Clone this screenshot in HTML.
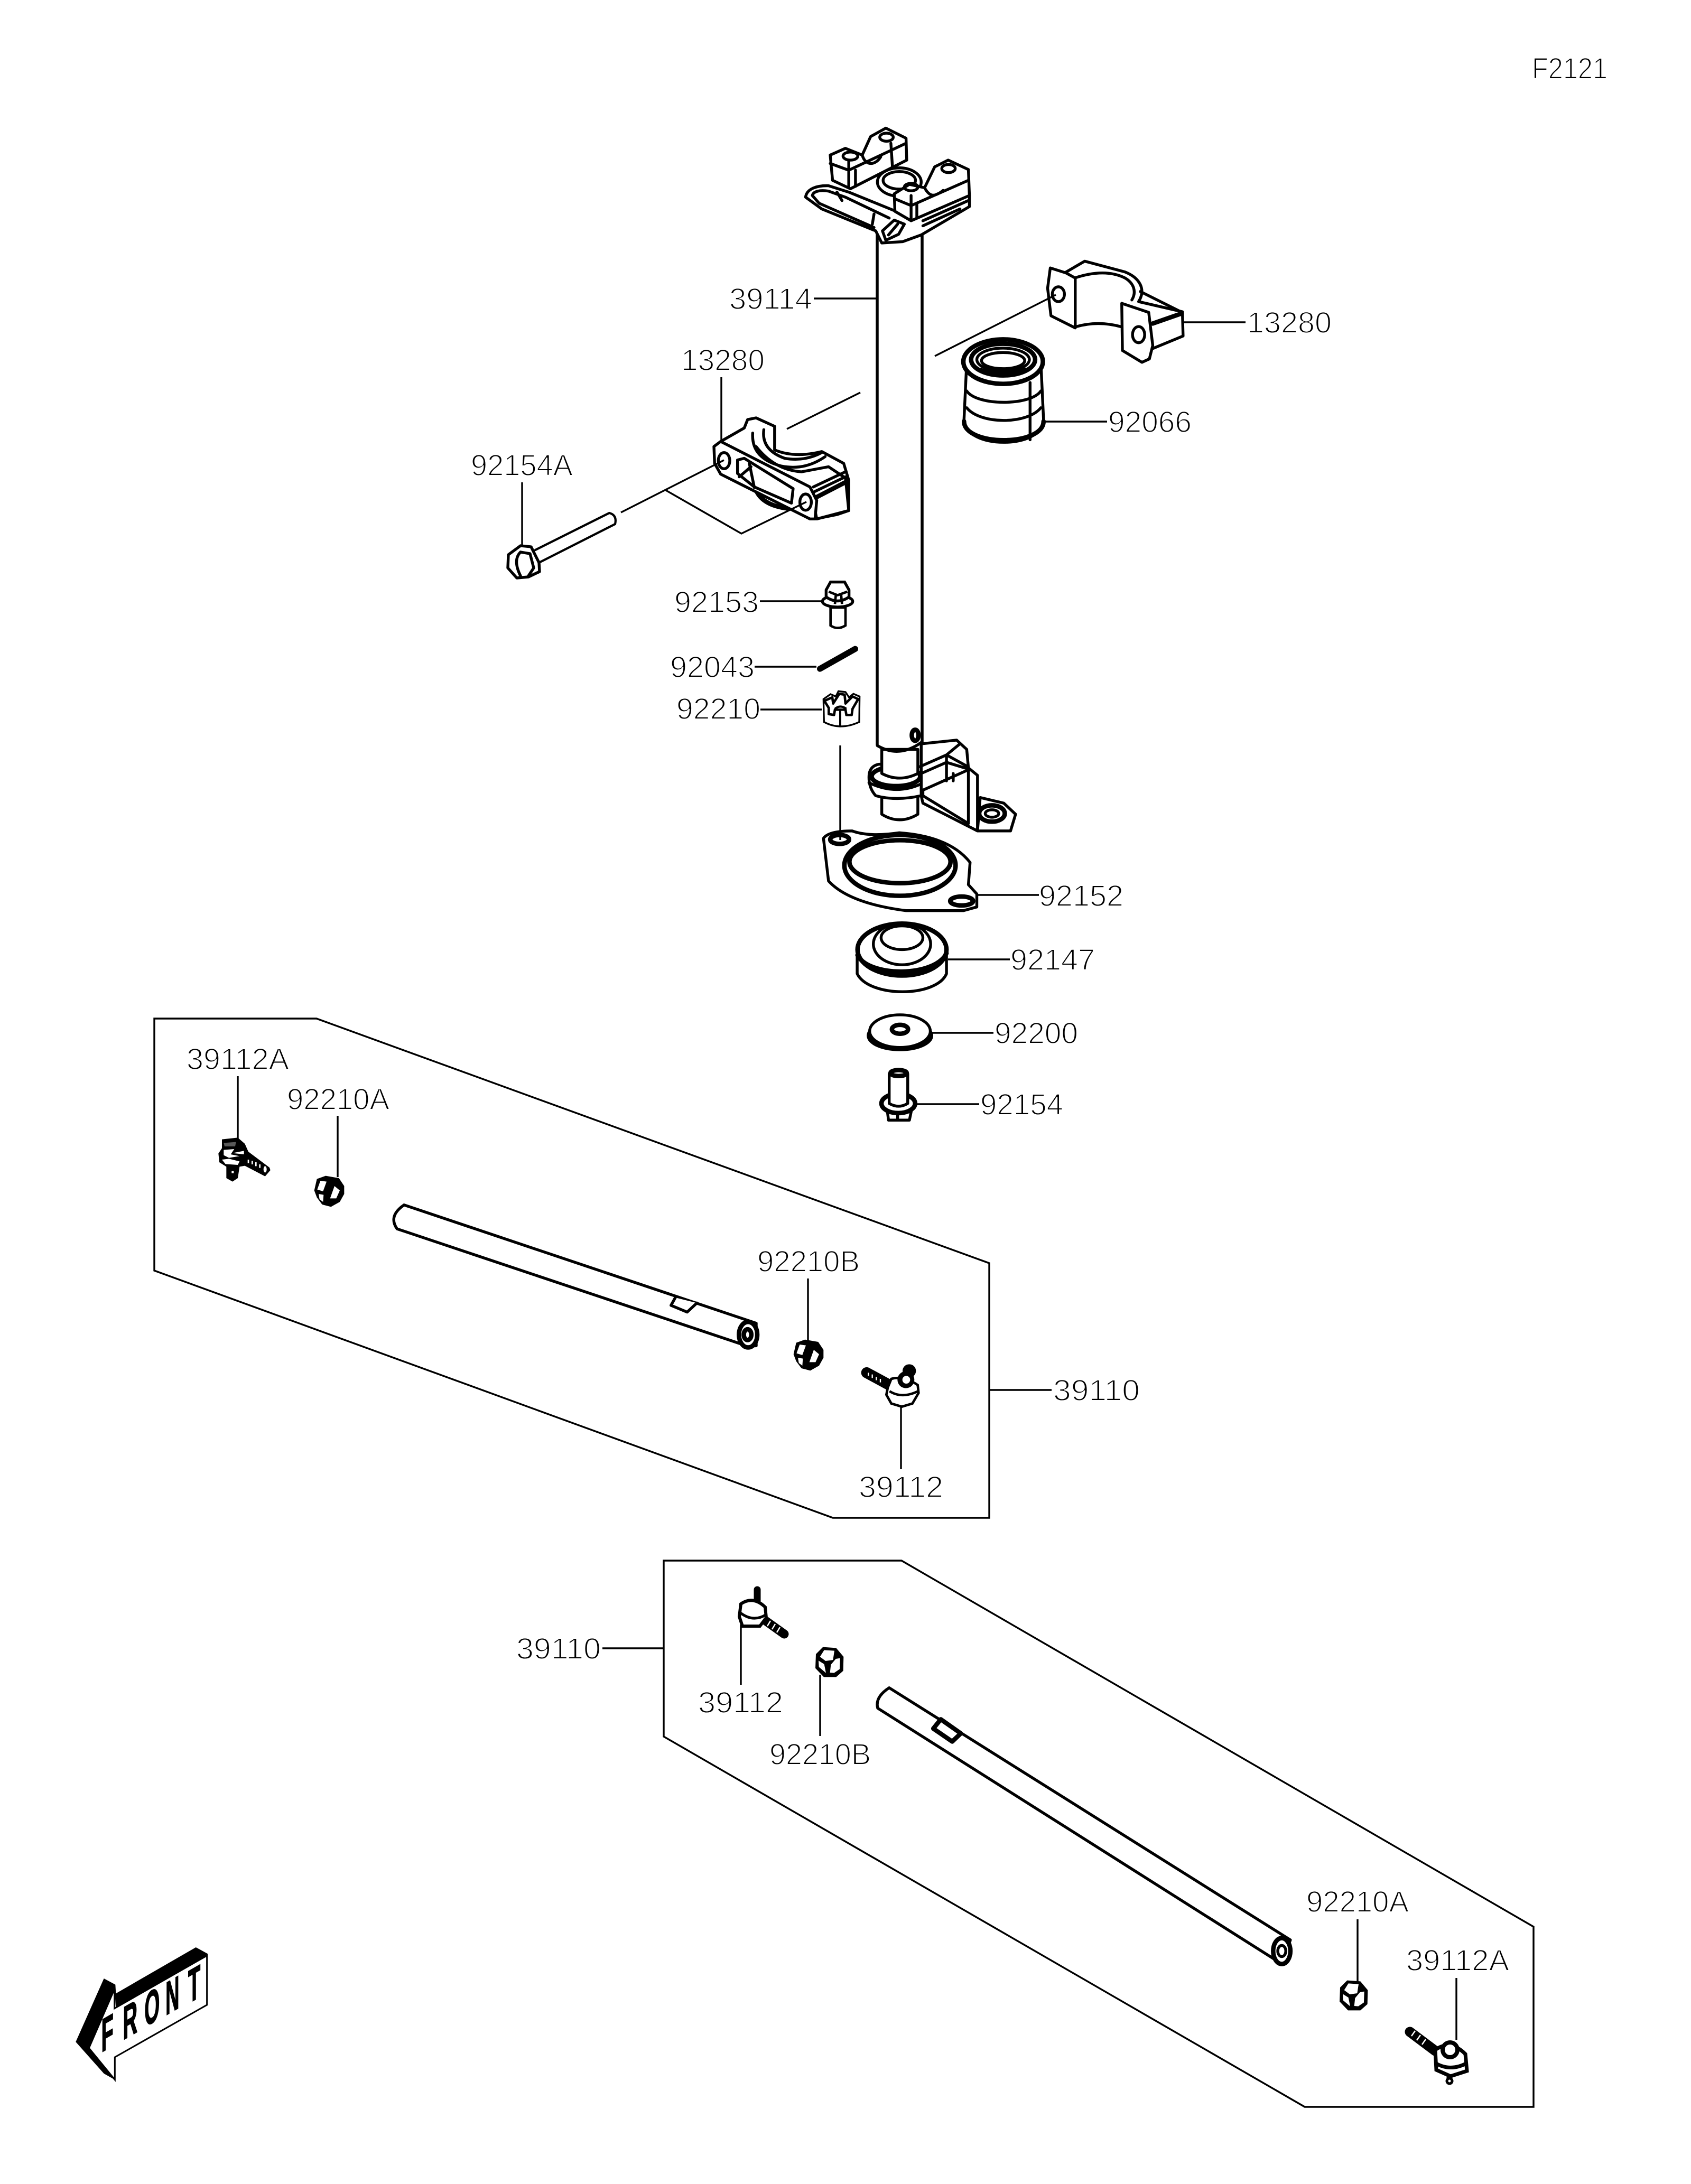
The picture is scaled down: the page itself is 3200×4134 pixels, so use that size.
<!DOCTYPE html>
<html><head><meta charset="utf-8"><title>F2121</title>
<style>
html,body{margin:0;padding:0;background:#fff;width:3200px;height:4134px;overflow:hidden}
svg{display:block}
text.l{font-family:"Liberation Sans",sans-serif;font-size:57px;fill:#000;stroke:#fff;stroke-width:1.9px;paint-order:fill stroke}
.ln line,.ln polyline,.ln polygon{fill:none;stroke:#000;stroke-width:3.4px}
.p *{fill:#fff;stroke:#000;stroke-width:5.4px;stroke-linejoin:round;stroke-linecap:round;vector-effect:non-scaling-stroke}
.p .n{fill:none}
.p .t{stroke-width:8.5px}
.k{fill:#000}
.w{fill:#fff}
</style></head><body>
<svg width="3200" height="4134" viewBox="0 0 3200 4134" xmlns="http://www.w3.org/2000/svg">
<defs>
  <g id="nutA" transform="scale(.3333)">
    <path class="k" d="M-70 -70L-20 -88L55 -75L85 -30L85 15L60 60L10 88L-40 75L-70 35L-85 -5Z"/>
    <path class="w" d="M-50 -60L-15 -55L-35 0L-68 -10Z"/>
    <path class="w" d="M-60 15L-32 20L-35 60L-55 45Z"/>
    <path class="w" d="M30 -30L60 -5L40 40L5 40Z"/>
  </g>
  <g id="nutB" transform="scale(.3333)">
    <path class="k" d="M-35 -85L40 -80L82 -30L80 50L40 85L-30 85L-78 35L-75 -45Z"/>
    <path class="w" d="M-28 -68L30 -64L22 -12L-20 -6L-52 -30Z"/>
    <path class="w" d="M-60 -8L-28 12L-18 62L-58 28Z"/>
    <path class="w" d="M38 -18L62 -22L60 40L28 62L5 60L10 15Z"/>
  </g>
</defs>

<!-- main tube -->
<path d="M1660 443V1411M1745 443V1405" fill="none" stroke="#000" stroke-width="5.5"/>

<!-- upper column parts: zoom-1 coordinates -->
<g class="p" transform="translate(1300,150) scale(.6378)">
  <!-- base plate -->
  <path d="M352 350C355 325 385 315 420 316L480 335L640 400L838 345L838 378L695 462L640 482L578 486L560 450L400 385Z"/>
  <path class="n" d="M372 345C375 332 395 328 420 332L470 350L600 412M372 345L392 368L555 440M445 335L460 360M555 400L550 430M700 420L835 360M700 435L810 385"/>
  <!-- center ring -->
  <ellipse cx="630" cy="305" rx="65" ry="42"/>
  <ellipse class="n" cx="630" cy="300" rx="48" ry="26"/>
  <!-- left block -->
  <path d="M425 225L470 205L520 225L545 170L590 145L650 175L652 240L485 325L432 300Z"/>
  <path class="n" d="M425 250L480 270L650 190M480 240L480 322M500 270L500 318M605 190L610 265M520 225C530 260 560 255 575 230"/>
  <ellipse class="n" cx="485" cy="228" rx="22" ry="12"/>
  <ellipse class="n" cx="592" cy="172" rx="20" ry="12"/>
  <!-- right block -->
  <path d="M615 340L660 312L705 322L735 260L775 240L835 268L838 345L665 420L617 392Z"/>
  <path class="n" d="M617 355L665 375L835 300M665 345L665 418M682 370L682 412M705 322C720 350 735 350 760 330"/>
  <ellipse class="n" cx="665" cy="320" rx="20" ry="11"/>
  <ellipse class="n" cx="776" cy="265" rx="20" ry="12"/>
  <!-- stem clip -->
  <path d="M580 450L615 418L645 430L628 460L590 478Z"/>
  <path class="n" d="M598 462L625 430"/>

  <!-- right clamp -->
  <path d="M1120 575L1180 540L1300 572C1345 590 1362 625 1340 660L1470 690L1472 762L1380 800L1290 735Q1220 715 1152 735Z"/>
  <path class="n" d="M1150 590Q1240 560 1300 590C1325 605 1335 630 1320 655M1345 630L1465 690"/>
  <path d="M1078 560L1125 575L1152 590L1152 738L1080 702L1070 620Z"/>
  <path d="M1290 665L1370 692L1382 790L1372 830L1350 840L1292 805Z"/>
  <ellipse cx="1102" cy="638" rx="18" ry="22"/>
  <ellipse cx="1340" cy="758" rx="18" ry="24"/>
  <path class="t n" d="M1382 725L1468 695"/>

  <!-- bushing 92066 -->
  <path d="M822 1010L830 840H1050L1058 1010C1058 1100 822 1100 822 1010Z"/>
  <path class="t n" d="M822 1015C822 1090 1058 1090 1058 1015"/>
  <path class="n" d="M830 925C860 970 1020 970 1050 925M830 975C870 1025 1010 1025 1050 975M1018 900V1070"/>
  <ellipse class="t" cx="938" cy="838" rx="118" ry="66"/>
  <ellipse class="t" cx="938" cy="832" rx="95" ry="47"/>
  <ellipse class="n" cx="938" cy="832" rx="78" ry="34"/>
  <ellipse class="n" cx="938" cy="835" rx="64" ry="24"/>
  <path class="n" d="M870 860Q938 885 1005 860"/>

  <!-- left clamp -->
  <path d="M100 1075L170 1035L180 1010L205 1005L260 1030L260 1100Q320 1125 400 1105L465 1140L480 1190L480 1280L445 1292L380 1305L200 1210Z"/>
  <path class="n" d="M195 1050Q190 1125 280 1148Q350 1162 410 1120M228 1040Q220 1100 290 1125Q350 1135 400 1108M205 1090Q260 1160 340 1165L420 1150L465 1180M375 1210L470 1165"/>
  <path d="M370 1228L470 1180L480 1280L385 1305Z"/>
  <path class="t n" d="M385 1240L472 1195"/>
  <path class="t n" d="M205 1220Q225 1265 300 1274"/>
  <path d="M80 1090L100 1075L365 1210L385 1250L380 1305L365 1305L100 1172L82 1140Z"/>
  <ellipse cx="110" cy="1132" rx="17" ry="24"/>
  <ellipse cx="352" cy="1255" rx="17" ry="24"/>
  <path d="M150 1130L170 1125L315 1215L310 1258L200 1210L150 1170Z"/>
  <path class="n" d="M155 1180L190 1150"/>
  <path class="n" d="M185 1140L200 1212"/>
</g>

<!-- small column hardware: real/3x crop coordinates -->
<g transform="translate(1500,1110) scale(.3333)">
  <!-- 92153 -->
  <path d="M215 120V222Q255 250 300 222V120Z" fill="#fff" stroke="#000" stroke-width="14"/>
  <ellipse cx="255" cy="85" rx="86" ry="32" fill="#fff" stroke="#000" stroke-width="16"/>
  <path d="M190 60V20L215 -25H295L320 20V60Q255 105 190 60Z" fill="#fff" stroke="#000" stroke-width="16"/>
  <path d="M205 30L255 50L310 30M245 50L240 100M275 45L280 100" fill="none" stroke="#000" stroke-width="14"/>
  <!-- 92043 -->
  <path d="M155 468L355 355" stroke="#000" stroke-width="34" stroke-linecap="round" fill="none"/>
  <!-- 92210 castle nut -->
  <path d="M175 640L215 612L245 625L260 595L300 600L320 630L345 610L380 625L378 770Q270 820 178 770Z" fill="#fff" stroke="#000" stroke-width="10"/>
  <path d="M180 650L225 630L230 665L265 610L295 615L300 665L340 625L372 640L340 695L335 730L305 730L300 700L240 700L235 730L205 725L205 690Z" fill="#fff" stroke="#000" stroke-width="14" stroke-linejoin="round"/>
  <path d="M240 695Q270 670 305 695M270 705V800" fill="none" stroke="#000" stroke-width="12"/>
</g>

<!-- lower column parts: zoom-2 coordinates -->
<g class="p" transform="translate(1300,1050) scale(.6378,.7018)">
  <!-- arm -->
  <path d="M695 510L800 500L830 525L835 575L862 595L862 745L960 745L975 700L940 670L870 655L862 745L700 670L695 650Z"/>
  <path d="M700 650L835 725V580L700 635Z"/>
  <path class="n" d="M690 572L770 540L830 570M690 592L770 560L835 578M770 545V610M790 590V610M770 540L810 510"/>
  <ellipse class="t" cx="905" cy="698" rx="38" ry="22"/>
  <ellipse class="n" cx="905" cy="698" rx="20" ry="10"/>
  <!-- spindle -->
  <path d="M578 640V700Q630 730 685 700V640Z"/>
  <path d="M540 600Q540 570 570 565H670L695 600V650Q620 665 560 650Q540 630 540 600Z"/>
  <ellipse class="t" cx="620" cy="598" rx="72" ry="26"/>
  <path d="M578 525V590Q630 615 685 590V525Z"/>
  <path class="n" d="M540 615Q620 650 695 618"/>
  <path class="n" d="M565 515Q630 550 697 505" style="stroke-width:5.5px"/>
  <ellipse class="t" cx="677" cy="487" rx="10" ry="15"/>

  <!-- 92152 plate -->
  <path d="M405 765Q420 745 490 745Q540 762 630 750Q780 760 840 830L835 890L860 915L860 950L820 960L650 960Q480 940 420 880Z"/>
  <ellipse class="t" cx="632" cy="838" rx="165" ry="82"/>
  <ellipse class="t" cx="632" cy="828" rx="150" ry="58"/>
  <ellipse class="t" cx="453" cy="768" rx="28" ry="12"/>
  <ellipse class="t" cx="815" cy="934" rx="34" ry="12"/>
  <!-- 92147 -->
  <path d="M505 1075V1130C540 1195 740 1195 770 1130V1075Z"/>
  <ellipse class="t" cx="638" cy="1065" rx="132" ry="70"/>
  <path class="t n" d="M506 1080C540 1140 735 1140 770 1075"/>
  <ellipse cx="638" cy="1050" rx="85" ry="56"/>
  <ellipse cx="638" cy="1033" rx="62" ry="32"/>
  <!-- 92200 -->
  <ellipse class="t" cx="632" cy="1297" rx="92" ry="36"/>
  <ellipse cx="632" cy="1285" rx="90" ry="44"/>
  <ellipse class="t" cx="632" cy="1280" rx="24" ry="12"/>
  <!-- 92154 -->
  <path d="M593 1490L598 1525H660L668 1490Z"/>
  <path class="n" d="M625 1500V1525"/>
  <ellipse class="t" cx="627" cy="1480" rx="50" ry="26"/>
  <path d="M600 1400V1480Q628 1495 655 1480V1400Z"/>
  <ellipse class="t" cx="628" cy="1398" rx="24" ry="8"/>
</g>
<line x1="1590" y1="1411" x2="1590" y2="1590" stroke="#000" stroke-width="3.4"/>

<!-- bolt 92154A -->
<g class="p">
  <path class="n" d="M1013 1041L1153 971Q1168 975 1164 992L1018 1066" style="stroke-width:4.2px"/>
  <path d="M962 1050L985 1033L1005 1035L1020 1065L1021 1082L1000 1092L978 1094L961 1075Z"/>
  <path class="n" d="M985 1045L1003 1048L1010 1075L1000 1090M985 1045Q970 1060 985 1090"/>
</g>

<!-- upper tie-rod: zoom-3 coordinates -->
<g class="p" transform="translate(280,1900) scale(1.0204,.6378)">
  <path d="M475 597L1128 948L1128 1015L1110 1015L462 668Q445 630 475 597Z"/>
  <ellipse class="t" cx="1113" cy="982" rx="17" ry="38"/>
  <ellipse class="t" cx="1112" cy="982" rx="7" ry="16"/>
  <path d="M978 872L970 895L1000 915L1018 888"/>
</g>
<use href="#nutA" x="0" y="0" transform="translate(623,2255)"/>
<use href="#nutA" transform="translate(1530,2565)"/>

<!-- 39112A upper -->
<g transform="translate(390,2120) scale(.3333)">
  <path class="k" d="M90 110L180 100L220 135L240 180L360 270L365 285L335 320L220 260L190 265L180 330L150 350L115 330L115 265L75 240L70 190L90 160Z"/>
  <path class="w" d="M100 170L160 165L140 195L190 205L130 215L100 200Z"/>
  <path class="w" d="M90 225L130 220L190 235L180 255L110 250Z"/>
  <path class="w" d="M150 188L215 175L215 195Z"/>
  <path class="w" d="M100 130L170 125L165 150L105 150Z" opacity=".35"/>
  <ellipse class="w" cx="335" cy="280" rx="9" ry="18"/>
  <path d="M240 225V245M262 232V252M283 240V262M305 252V272" stroke="#fff" stroke-width="8" fill="none"/>
  <rect class="w" x="145" y="290" width="12" height="12"/>
</g>
<!-- 39112 upper -->
<g transform="translate(1480,2500) scale(.3333)">
  <path d="M480 295L600 360" stroke="#000" stroke-width="62" stroke-linecap="round" fill="none"/>
  <path d="M490 295V312M512 305V325M535 318V338M558 330V350" stroke="#fff" stroke-width="7" fill="none"/>
  <path d="M620 330Q690 310 770 365L775 410L740 470L680 488L620 470L592 420L600 380Z" fill="#fff" stroke="#000" stroke-width="14"/>
  <path d="M610 400Q680 445 772 400" fill="none" stroke="#000" stroke-width="14"/>
  <ellipse class="k" cx="722" cy="285" rx="38" ry="38"/>
  <ellipse class="k" cx="703" cy="335" rx="48" ry="48"/>
  <ellipse class="w" cx="705" cy="335" rx="22" ry="22"/>
</g>

<!-- lower tie-rod: zoom-4 coordinates -->
<g class="p" transform="translate(1200,2900) scale(1.0846,.7018)">
  <path d="M445 420L1145 1100L1130 1165L1115 1150L425 475Q420 445 445 420Z"/>
  <ellipse class="t" cx="1130" cy="1130" rx="15" ry="35"/>
  <ellipse cx="1130" cy="1130" rx="7" ry="15"/>
  <path class="t" d="M535 505L522 530L555 565L570 543Z"/>
</g>
<use href="#nutB" transform="translate(1569,3146)"/>
<use href="#nutB" transform="translate(2561,3777)"/>

<!-- 39112 lower -->
<g>
  <path d="M1449 3068L1484 3093" stroke="#000" stroke-width="17" stroke-linecap="round" fill="none"/>
  <path d="M1458 3068L1452 3078M1467 3074L1461 3084M1476 3080L1470 3090" stroke="#fff" stroke-width="2.5" fill="none"/>
  <path d="M1433 3009V3030" stroke="#000" stroke-width="13" stroke-linecap="round"/>
  <path d="M1402 3036Q1425 3020 1448 3042L1450 3062L1438 3078L1405 3078L1399 3060Z" fill="#fff" stroke="#000" stroke-width="6"/>
  <path d="M1400 3052Q1425 3072 1450 3056" fill="none" stroke="#000" stroke-width="5"/>
</g>
<!-- 39112A lower -->
<g>
  <path d="M2668 3846L2716 3882" stroke="#000" stroke-width="19" stroke-linecap="round" fill="none"/>
  <path d="M2678 3844L2671 3854M2688 3852L2681 3862M2698 3860L2691 3870" stroke="#fff" stroke-width="2.5" fill="none"/>
  <path d="M2716 3880Q2745 3860 2773 3888L2776 3920L2745 3930L2718 3918Z" fill="#fff" stroke="#000" stroke-width="7"/>
  <circle cx="2744" cy="3880" r="14" fill="#fff" stroke="#000" stroke-width="8"/>
  <path d="M2716 3905Q2745 3922 2776 3905" fill="none" stroke="#000" stroke-width="7"/>
  <path d="M2743 3928V3938" stroke="#000" stroke-width="11"/>
  <circle cx="2743" cy="3939" r="5" fill="#fff" stroke="#000" stroke-width="5"/>
</g>

<!-- leaders and boxes -->
<g class="ln">
  <polygon points="292,1928 599,1928 1872,2391 1872,2873 1576,2873 292,2405"/>
  <polygon points="1256,2954 1706,2954 2902,3647 2902,3988 2469,3988 1256,3287"/>
  <line x1="1540" y1="565" x2="1658" y2="565"/>
  <line x1="2237" y1="610" x2="2357" y2="610"/>
  <line x1="1976" y1="798" x2="2095" y2="798"/>
  <line x1="1365" y1="714" x2="1365" y2="834"/>
  <line x1="988" y1="913" x2="988" y2="1032"/>
  <line x1="1438" y1="1138" x2="1555" y2="1138"/>
  <line x1="1428" y1="1262" x2="1545" y2="1262"/>
  <line x1="1439" y1="1343" x2="1555" y2="1343"/>
  <line x1="1848" y1="1694" x2="1966" y2="1694"/>
  <line x1="1794" y1="1816" x2="1911" y2="1816"/>
  <line x1="1762" y1="1955" x2="1880" y2="1955"/>
  <line x1="1734" y1="2090" x2="1853" y2="2090"/>
  <line x1="1769" y1="674" x2="1998" y2="558"/>
  <line x1="1489" y1="812" x2="1628" y2="743"/>
  <line x1="1175" y1="970" x2="1370" y2="871"/>
  <polyline points="1260,928 1403,1010 1526,950"/>
  <line x1="450" y1="2037" x2="450" y2="2155"/>
  <line x1="639" y1="2112" x2="639" y2="2228"/>
  <line x1="1529" y1="2420" x2="1529" y2="2538"/>
  <line x1="1705" y1="2662" x2="1705" y2="2781"/>
  <line x1="1872" y1="2631" x2="1990" y2="2631"/>
  <line x1="1140" y1="3120" x2="1256" y2="3120"/>
  <line x1="1402" y1="3075" x2="1402" y2="3189"/>
  <line x1="1552" y1="3170" x2="1552" y2="3286"/>
  <line x1="2569" y1="3633" x2="2569" y2="3753"/>
  <line x1="2756" y1="3744" x2="2756" y2="3861"/>
</g>

<!-- labels -->
<g>
  <text class="l" x="2899" y="149" textLength="143" lengthAdjust="spacingAndGlyphs">F2121</text>
  <text class="l" x="1380" y="585" textLength="157" lengthAdjust="spacingAndGlyphs">39114</text>
  <text class="l" x="2360" y="630" textLength="160" lengthAdjust="spacingAndGlyphs">13280</text>
  <text class="l" x="1289" y="701" textLength="158" lengthAdjust="spacingAndGlyphs">13280</text>
  <text class="l" x="2097" y="818" textLength="158" lengthAdjust="spacingAndGlyphs">92066</text>
  <text class="l" x="891" y="900" textLength="193" lengthAdjust="spacingAndGlyphs">92154A</text>
  <text class="l" x="1276" y="1159" textLength="160" lengthAdjust="spacingAndGlyphs">92153</text>
  <text class="l" x="1268" y="1282" textLength="160" lengthAdjust="spacingAndGlyphs">92043</text>
  <text class="l" x="1280" y="1361" textLength="159" lengthAdjust="spacingAndGlyphs">92210</text>
  <text class="l" x="1966" y="1715" textLength="160" lengthAdjust="spacingAndGlyphs">92152</text>
  <text class="l" x="1912" y="1836" textLength="160" lengthAdjust="spacingAndGlyphs">92147</text>
  <text class="l" x="1882" y="1975" textLength="158" lengthAdjust="spacingAndGlyphs">92200</text>
  <text class="l" x="1855" y="2110" textLength="157" lengthAdjust="spacingAndGlyphs">92154</text>
  <text class="l" x="353" y="2024" textLength="194" lengthAdjust="spacingAndGlyphs">39112A</text>
  <text class="l" x="543" y="2100" textLength="194" lengthAdjust="spacingAndGlyphs">92210A</text>
  <text class="l" x="1433" y="2407" textLength="194" lengthAdjust="spacingAndGlyphs">92210B</text>
  <text class="l" x="1993" y="2651" textLength="164" lengthAdjust="spacingAndGlyphs">39110</text>
  <text class="l" x="1625" y="2834" textLength="160" lengthAdjust="spacingAndGlyphs">39112</text>
  <text class="l" x="977" y="3140" textLength="160" lengthAdjust="spacingAndGlyphs">39110</text>
  <text class="l" x="1321" y="3242" textLength="161" lengthAdjust="spacingAndGlyphs">39112</text>
  <text class="l" x="1456" y="3340" textLength="192" lengthAdjust="spacingAndGlyphs">92210B</text>
  <text class="l" x="2472" y="3619" textLength="194" lengthAdjust="spacingAndGlyphs">92210A</text>
  <text class="l" x="2661" y="3730" textLength="195" lengthAdjust="spacingAndGlyphs">39112A</text>
</g>

<!-- FRONT arrow -->
<g transform="translate(100,3600) scale(.3333)">
  <polygon fill="#000" points="290,435 355,470 358,520 812,258 880,295 875,310 358,605 350,495 205,835 352,1010 290,975 130,795"/>
  <path d="M350 495L350 605L875 305L875 585L352 882L352 1010L205 830Z" fill="#fff" stroke="#000" stroke-width="9" stroke-linejoin="miter"/>
  <g font-family="'Liberation Sans',sans-serif" font-weight="700" font-size="265" fill="#000" stroke="#000" stroke-width="6">
    <text transform="matrix(.43,-.248,0,1,275,855)">F</text>
    <text transform="matrix(.43,-.248,0,1,398,785)">R</text>
    <text transform="matrix(.42,-.242,0,1,520,712)">O</text>
    <text transform="matrix(.41,-.237,0,1,640,645)">N</text>
    <text transform="matrix(.43,-.248,0,1,768,578)">T</text>
  </g>
</g>
</svg>
</body></html>
